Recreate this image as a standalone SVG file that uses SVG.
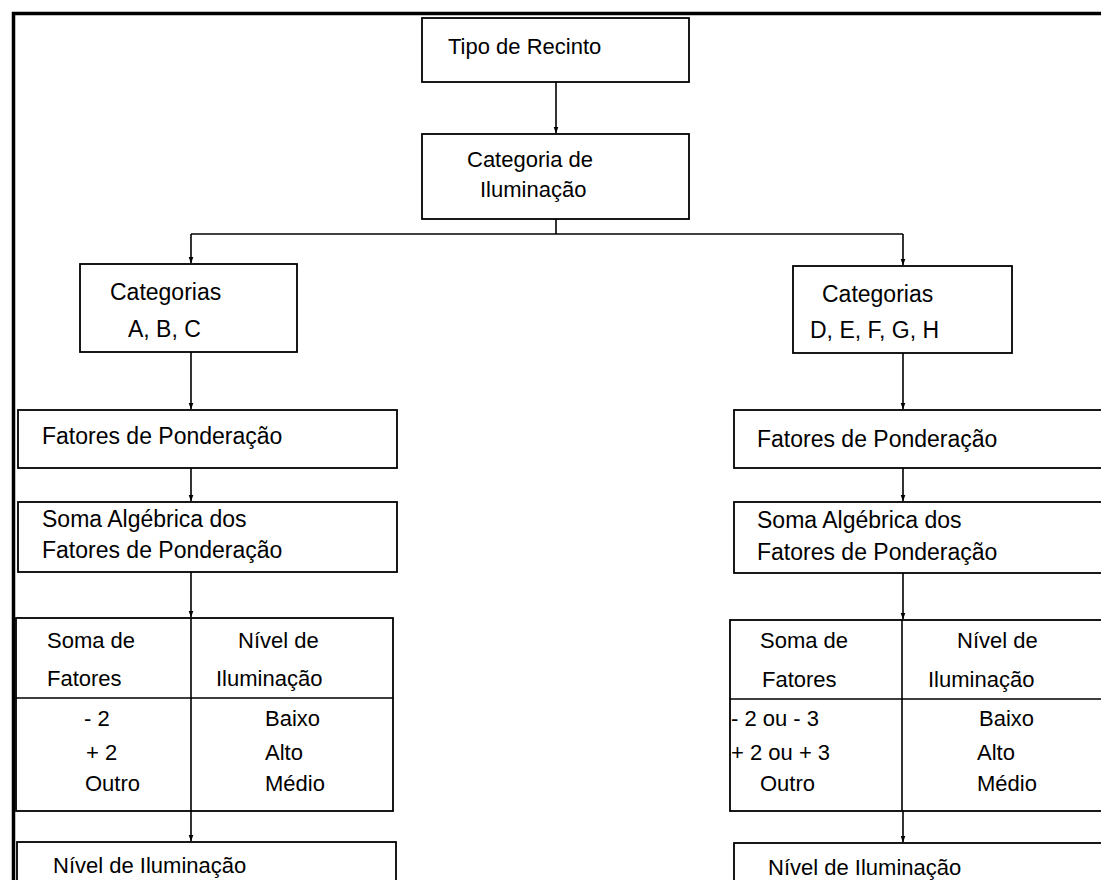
<svg xmlns="http://www.w3.org/2000/svg" width="1101" height="880" viewBox="0 0 1101 880">
<defs>
<style>
.box{fill:#fff;stroke:#000;stroke-width:1.8}
.ln{fill:none;stroke:#000;stroke-width:1.6}
.frame{fill:none;stroke:#000;stroke-width:3.5}
text{font-family:"Liberation Sans",Arial,sans-serif;font-size:22px;fill:#000}
.t23{font-size:23px}
</style>
<marker id="ah" markerUnits="userSpaceOnUse" markerWidth="8" markerHeight="9" refX="4" refY="8" orient="auto-start-reverse" viewBox="0 0 8 9">
<path d="M1.5,0 L6.5,0 L4,8 Z" fill="#000" transform="rotate(-90 4 4.5)"/>
</marker>
<marker id="arr" markerUnits="userSpaceOnUse" markerWidth="7" markerHeight="8" refX="6.5" refY="3.5" orient="auto" viewBox="0 0 7 7">
<path d="M0,1 L7,3.5 L0,6 Z" fill="#000"/>
</marker>
</defs>
<rect width="1101" height="880" fill="#fff"/>
<path class="frame" d="M13.5,880 L13.5,13.5 L1101,13.5"/>

<g id="connectors">
<path class="ln" d="M556,82 V133" marker-end="url(#arr)"/>
<path class="ln" d="M556,219 V234"/>
<path class="ln" d="M191,234 H903"/>
<path class="ln" d="M191,234 V263" marker-end="url(#arr)"/>
<path class="ln" d="M903,234 V265" marker-end="url(#arr)"/>
<path class="ln" d="M191,352 V409" marker-end="url(#arr)"/>
<path class="ln" d="M191,468 V501" marker-end="url(#arr)"/>
<path class="ln" d="M191,572 V617" marker-end="url(#arr)"/>
<path class="ln" d="M191,811 V841" marker-end="url(#arr)"/>
<path class="ln" d="M903,353 V409" marker-end="url(#arr)"/>
<path class="ln" d="M903,468 V501" marker-end="url(#arr)"/>
<path class="ln" d="M903,573 V619" marker-end="url(#arr)"/>
<path class="ln" d="M903,811 V842" marker-end="url(#arr)"/>
</g>

<g id="tipo-recinto">
<rect class="box" x="422" y="18" width="267" height="64"/>
<text x="448" y="54">Tipo de Recinto</text>
</g>

<g id="categoria-iluminacao">
<rect class="box" x="422" y="134" width="267" height="85"/>
<text x="467" y="167">Categoria de</text>
<text x="480" y="197">Iluminação</text>
</g>

<g id="categorias-abc">
<rect class="box" x="80" y="264" width="217" height="88"/>
<text class="t23" x="110" y="300">Categorias</text>
<text class="t23" x="128" y="337">A, B, C</text>
</g>

<g id="categorias-defgh">
<rect class="box" x="793" y="266" width="219" height="87"/>
<text class="t23" x="822" y="302">Categorias</text>
<text class="t23" x="810" y="338">D, E, F, G, H</text>
</g>

<g id="fatores-left">
<rect class="box" x="18" y="410" width="379" height="58"/>
<text class="t23" x="42" y="444">Fatores de Ponderação</text>
</g>

<g id="fatores-right">
<rect class="box" x="734" y="410" width="380" height="58"/>
<text class="t23" x="757" y="447">Fatores de Ponderação</text>
</g>

<g id="soma-left">
<rect class="box" x="18" y="502" width="379" height="70"/>
<text class="t23" x="42" y="527">Soma Algébrica dos</text>
<text class="t23" x="42" y="558">Fatores de Ponderação</text>
</g>

<g id="soma-right">
<rect class="box" x="734" y="502" width="380" height="71"/>
<text class="t23" x="757" y="528">Soma Algébrica dos</text>
<text class="t23" x="757" y="560">Fatores de Ponderação</text>
</g>

<g id="tabela-left">
<rect class="box" x="16" y="618" width="377" height="193"/>
<path class="ln" d="M16,698 H393 M191,618 V811"/>
<text x="47" y="648">Soma de</text>
<text x="47" y="686">Fatores</text>
<text x="238" y="648">Nível de</text>
<text x="216" y="686">Iluminação</text>
<text x="84" y="726">- 2</text>
<text x="86" y="760">+ 2</text>
<text x="85" y="791">Outro</text>
<text x="265" y="726">Baixo</text>
<text x="265" y="760">Alto</text>
<text x="265" y="791">Médio</text>
</g>

<g id="tabela-right">
<rect class="box" x="730" y="620" width="384" height="191"/>
<path class="ln" d="M730,699 H1114 M902,620 V811"/>
<text x="760" y="648">Soma de</text>
<text x="762" y="687">Fatores</text>
<text x="957" y="648">Nível de</text>
<text x="928" y="687">Iluminação</text>
<text x="731" y="726">- 2 ou - 3</text>
<text x="731" y="760">+ 2 ou + 3</text>
<text x="760" y="791">Outro</text>
<text x="979" y="726">Baixo</text>
<text x="977" y="760">Alto</text>
<text x="977" y="791">Médio</text>
</g>

<g id="nivel-left">
<rect class="box" x="17" y="842" width="379" height="50"/>
<text x="53" y="873">Nível de Iluminação</text>
</g>

<g id="nivel-right">
<rect class="box" x="734" y="843" width="380" height="50"/>
<text x="768" y="875">Nível de Iluminação</text>
</g>
</svg>
